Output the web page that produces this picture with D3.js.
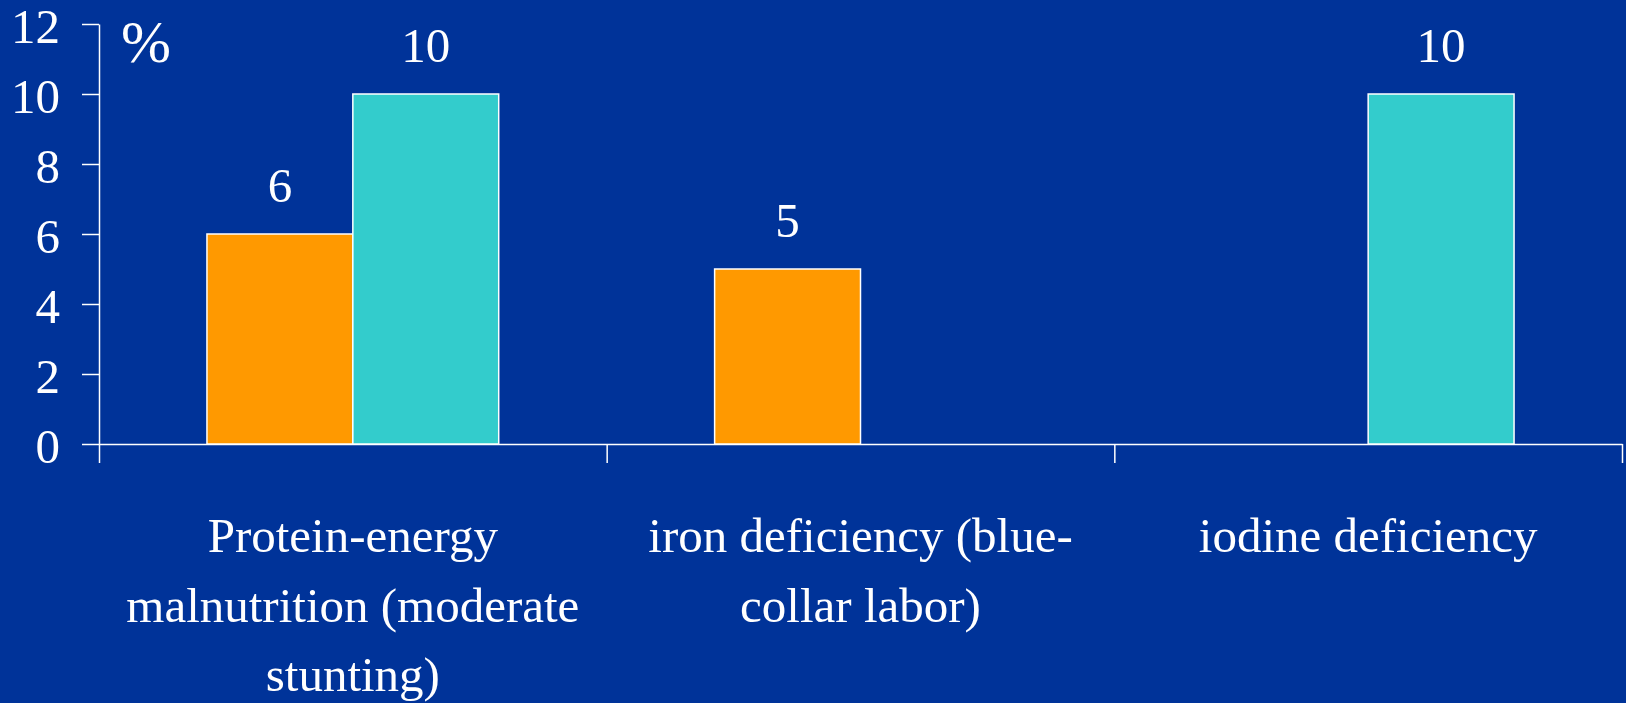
<!DOCTYPE html>
<html>
<head>
<meta charset="utf-8">
<script src="https://cdn.jsdelivr.net/npm/d3@7"></script>
<style>
  html, body { margin: 0; padding: 0; background: #003399; }
  svg { display: block; }
</style>
</head>
<body>
<svg id="chart" width="1626" height="703"></svg>
<script>
// categories, one label line per entry
const categories = ["pem", "iron", "iodine"];
const categoryLines = [
    ["Protein-energy", "malnutrition (moderate", "stunting)"],
    ["iron deficiency (blue-", "collar labor)"],
    ["iodine deficiency"]
];
const seriesNames = ["low", "high"];
const lowValues = [6, 5, null];
const highValues = [10, null, 10];
const yTicks = [0, 2, 4, 6, 8, 10, 12];
const seriesColors = ["#ff9900", "#33cccc"];

const svg = d3.select("#chart");
const width = 1626, height = 703;
const margin = {left: 99, right: 4, top: 24, bottom: 259};
const fontSize = 49;
const serif = "Liberation Serif";

svg.append("rect").attr("width", width).attr("height", height).attr("fill", "#003399");

const x = d3.scaleBand()
    .domain(categories)
    .range([margin.left, width - margin.right])
    .padding(0);

const x1 = d3.scaleBand()
    .domain(seriesNames)
    .range([0, x.bandwidth()])
    .paddingInner(0)
    .paddingOuter(0.74);

const y = d3.scaleLinear()
    .domain([0, 12])
    .range([height - margin.bottom, margin.top]);

// y axis
const yAxis = svg.append("g")
    .attr("transform", `translate(${margin.left},0)`)
    .call(d3.axisLeft(y).tickValues(yTicks).tickSize(17).tickSizeOuter(0).tickPadding(22));
yAxis.attr("font-family", serif).attr("font-size", fontSize);
yAxis.selectAll("path, line").attr("stroke", "#ffffff").attr("stroke-width", 1.5);
yAxis.selectAll("text")
    .attr("dy", "0.38em")
    .attr("fill", "#ffffff");

// x axis: ticks on the category boundaries
const xEdges = d3.scaleLinear()
    .domain([0, categories.length])
    .range(x.range());
const xAxis = svg.append("g")
    .attr("transform", `translate(0,${y(0)})`)
    .call(d3.axisBottom(xEdges)
        .tickValues(d3.range(categories.length + 1))
        .tickFormat("")
        .tickSize(19)
        .tickSizeOuter(0));
xAxis.selectAll("path, line").attr("stroke", "#ffffff").attr("stroke-width", 1.5);

// bars
const rows = categories.map((c, i) => ({cat: c, values: [lowValues[i], highValues[i]]}));

const groups = svg.append("g").selectAll("g")
    .data(rows)
    .join("g")
    .attr("transform", d => `translate(${x(d.cat)},0)`);

const bars = groups.selectAll("g")
    .data(d => d.values.map((v, j) => ({series: seriesNames[j], value: v, idx: j})).filter(e => e.value !== null))
    .join("g");

bars.append("rect")
    .attr("x", d => x1(d.series))
    .attr("y", d => y(d.value))
    .attr("width", x1.bandwidth())
    .attr("height", d => y(0) - y(d.value))
    .attr("fill", d => seriesColors[d.idx])
    .attr("stroke", "#ffffff")
    .attr("stroke-width", 1.5);

bars.append("text")
    .attr("x", d => x1(d.series) + x1.bandwidth() / 2)
    .attr("y", d => y(d.value) - 32)
    .attr("text-anchor", "middle")
    .attr("font-family", serif)
    .attr("font-size", fontSize)
    .attr("fill", "#ffffff")
    .text(d => d.value);

// unit label
svg.append("text")
    .attr("x", 121)
    .attr("y", 62)
    .attr("font-family", serif)
    .attr("font-size", 60)
    .attr("fill", "#ffffff")
    .text("%");

// category labels
const lineGap = 69.5;
svg.append("g").selectAll("text")
    .data(categories)
    .join("text")
    .attr("x", d => x(d) + x.bandwidth() / 2)
    .attr("y", 552)
    .attr("text-anchor", "middle")
    .attr("font-family", serif)
    .attr("font-size", fontSize)
    .attr("fill", "#ffffff")
    .selectAll("tspan")
    .data((d, i) => categoryLines[i])
    .join("tspan")
    .attr("x", function() { return d3.select(this.parentNode).attr("x"); })
    .attr("dy", (d, k) => k === 0 ? 0 : lineGap)
    .text(d => d);
</script>
</body>
</html>
